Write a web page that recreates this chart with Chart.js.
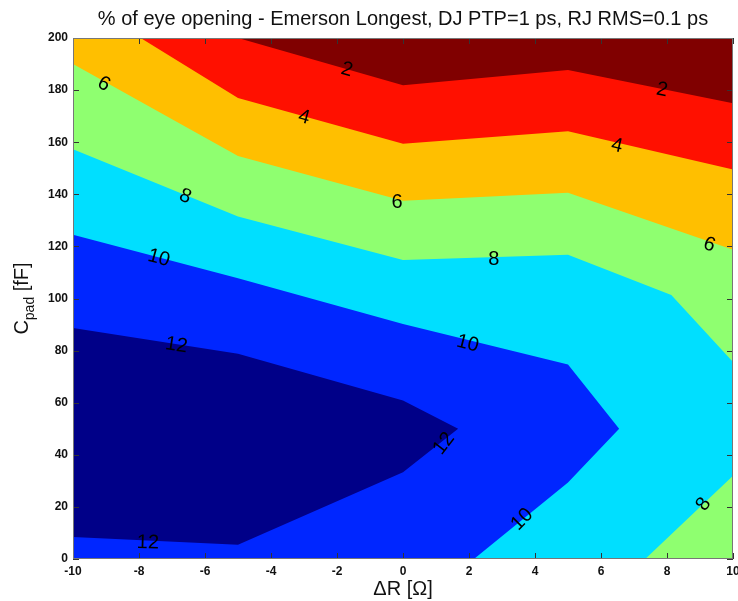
<!DOCTYPE html>
<html>
<head>
<meta charset="utf-8">
<script src="https://cdn.jsdelivr.net/npm/chart.js@4.4.1/dist/chart.umd.min.js"></script>
<style>
  body { margin: 0; background: #fff; }
  #wrap { width: 738px; height: 601px; }
</style>
</head>
<body>
<div id="wrap"><canvas id="eyeChart"></canvas></div>
<script>
// filled contour of eye opening (%)
// every outline is the region where the value is above that level, points are [dR, Cpad]
const levels = [0, 2, 4, 6, 8, 10, 12];
const bandColors = ["#800000", "#ff1000", "#ffbf00", "#8fff70", "#00dfff", "#0026ff", "#000088"];

const above0 = [[-10, 0], [10, 0], [10, 200], [-10, 200]];
const above2 = [[-10, 0], [10, 0], [10, 175], [5, 187.7], [0, 181.9], [-5, 200], [-10, 200]];
const above4 = [[-10, 0], [10, 0], [10, 149.5], [5, 164.2], [0, 159.4], [-5, 177], [-7.95, 200], [-10, 200]];
const above6 = [[-10, 0], [10, 0], [10, 118.7], [5, 140.6], [0, 137.5], [-5, 154.7], [-10, 190]];
const above8 = [[-10, 0], [7.34, 0], [10, 32], [10, 75.6], [8.13, 101.3], [5, 116.8], [0, 114.8], [-5, 131.5], [-10, 157.3]];
const above10 = [[-10, 0], [2.15, 0], [5, 29.4], [6.55, 50], [5, 74.7], [0, 90.2], [-5, 107.8], [-10, 124.5]];
const above12 = [[-10, 8.4], [-5, 5.5], [0, 33.3], [1.67, 50], [0, 60.8], [-5, 78.8], [-10, 88.7]];

const outlines = [above0, above2, above4, above6, above8, above10, above12];

const xTicks = [-10, -8, -6, -4, -2, 0, 2, 4, 6, 8, 10];
const yTicks = [0, 20, 40, 60, 80, 100, 120, 140, 160, 180, 200];

// clabel texts: level, where, angle along the line
const labelText = ["2", "2", "4", "4", "6", "8", "6", "8", "6", "10", "10", "12", "12", "12", "10", "8"];
const labelX = [-1.7, 7.85, -3.0, 6.48, -9.07, -6.6, -0.18, 2.75, 9.28, -7.4, 1.96, -6.87, 1.24, -7.73, 3.61, 9.11];
const labelY = [187.8, 180.1, 169.5, 158.6, 182.3, 139.2, 137, 114.8, 120.6, 115.5, 82.7, 82, 44.3, 6.2, 15.2, 21];
const labelAngle = [16, 11, 15, 13, 29, 22, 0, 0, 19, 15, 14, 9, -52, 2, -45, -55];

const chartTitle = "% of eye opening - Emerson Longest, DJ PTP=1 ps, RJ RMS=0.1 ps";

const datasets = outlines.map(function (pts, i) {
  const data = pts.map(function (p) { return { x: p[0], y: p[1] }; });
  data.push({ x: pts[0][0], y: pts[0][1] });
  return {
    label: "> " + levels[i],
    data: data,
    backgroundColor: bandColors[i],
    borderColor: bandColors[i],
    borderWidth: 0,
    pointRadius: 0,
    fill: "shape",
    order: outlines.length - i
  };
});

const tickFont = { family: "'Liberation Sans', Arial, sans-serif", size: 12, weight: "bold" };

// box, inward ticks, contour labels and the y title with subscript
const framePlugin = {
  id: "frame",
  afterDraw(chart) {
    const ctx = chart.ctx;
    const a = chart.chartArea;
    const xs = chart.scales.x;
    const ys = chart.scales.y;
    ctx.save();

    ctx.fillStyle = "#000";
    ctx.font = "20px 'Liberation Sans', Arial, sans-serif";
    ctx.textAlign = "center";
    ctx.textBaseline = "middle";
    for (let i = 0; i < labelText.length; i++) {
      ctx.save();
      ctx.translate(xs.getPixelForValue(labelX[i]), ys.getPixelForValue(labelY[i]));
      ctx.rotate(labelAngle[i] * Math.PI / 180);
      ctx.fillText(labelText[i], 0, 0);
      ctx.restore();
    }

    ctx.strokeStyle = "#333";
    ctx.lineWidth = 1;
    const tl = 6;
    ctx.beginPath();
    xTicks.forEach(function (v) {
      const px = Math.round(xs.getPixelForValue(v)) + 0.5;
      ctx.moveTo(px, a.bottom); ctx.lineTo(px, a.bottom - tl);
      ctx.moveTo(px, a.top); ctx.lineTo(px, a.top + tl);
    });
    yTicks.forEach(function (v) {
      const py = Math.round(ys.getPixelForValue(v)) + 0.5;
      ctx.moveTo(a.left, py); ctx.lineTo(a.left + tl, py);
      ctx.moveTo(a.right, py); ctx.lineTo(a.right - tl, py);
    });
    ctx.stroke();
    ctx.strokeStyle = "#777";
    ctx.strokeRect(Math.round(a.left) + 0.5, Math.round(a.top) + 0.5, Math.round(a.right - a.left) - 1, Math.round(a.bottom - a.top) - 1);

    // C_pad [fF]
    ctx.fillStyle = "#111";
    const big = "20px 'Liberation Sans', Arial, sans-serif";
    const small = "14px 'Liberation Sans', Arial, sans-serif";
    ctx.font = big; const w1 = ctx.measureText("C").width; const w3 = ctx.measureText(" [fF]").width;
    ctx.font = small; const w2 = ctx.measureText("pad").width;
    const total = w1 + w2 + w3;
    ctx.translate(28, (a.top + a.bottom) / 2);
    ctx.rotate(-Math.PI / 2);
    ctx.textAlign = "left";
    ctx.textBaseline = "alphabetic";
    let cx = -total / 2;
    ctx.font = big; ctx.fillText("C", cx, 0); cx += w1;
    ctx.font = small; ctx.fillText("pad", cx, 6); cx += w2;
    ctx.font = big; ctx.fillText(" [fF]", cx, 0);
    ctx.restore();
  }
};

new Chart(document.getElementById("eyeChart"), {
  type: "line",
  data: { datasets: datasets },
  options: {
    responsive: true,
    maintainAspectRatio: false,
    animation: false,
    events: [],
    layout: { padding: { left: 0, right: 5, top: 0, bottom: 0 } },
    plugins: {
      legend: { display: false },
      tooltip: { enabled: false },
      title: {
        display: true,
        text: chartTitle,
        fullSize: false,
        color: "#111",
        font: { family: "'Liberation Sans', Arial, sans-serif", size: 20, weight: "normal" },
        padding: { top: 7, bottom: 7 }
      }
    },
    scales: {
      x: {
        type: "linear",
        min: -10,
        max: 10,
        afterBuildTicks: function (s) { s.ticks = xTicks.map(function (v) { return { value: v }; }); },
        // the last tick label runs off the page in the original, so no room is kept for it
        afterFit: function (s) { s.height = 42; s.paddingRight = 0; },
        grid: { display: false, drawTicks: false },
        border: { display: false },
        ticks: { color: "#111", font: tickFont, padding: 5, maxRotation: 0 },
        title: {
          display: true,
          text: "\u0394R [\u03a9]",
          color: "#111",
          font: { family: "'Liberation Sans', Arial, sans-serif", size: 20 },
          padding: { top: 0, bottom: 0 }
        }
      },
      y: {
        type: "linear",
        min: 0,
        max: 200,
        afterBuildTicks: function (s) { s.ticks = yTicks.map(function (v) { return { value: v }; }); },
        afterFit: function (s) { s.width = 73; },
        grid: { display: false, drawTicks: false },
        border: { display: false },
        ticks: { color: "#111", font: tickFont, padding: 5 }
      }
    }
  },
  plugins: [framePlugin]
});
</script>
</body>
</html>
